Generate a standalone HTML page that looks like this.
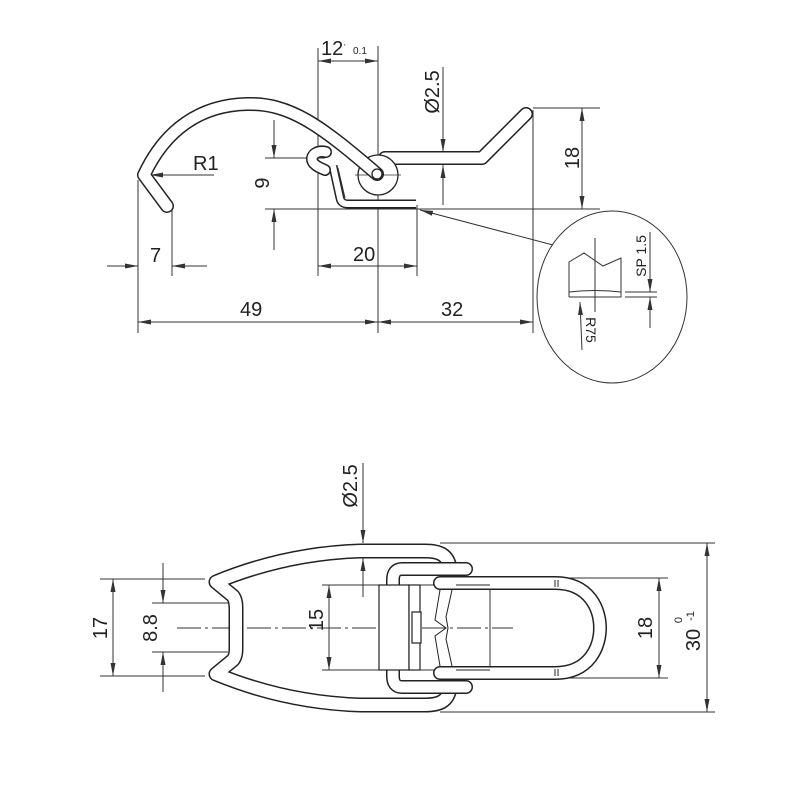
<!DOCTYPE html>
<html><head><meta charset="utf-8"><style>
html,body{margin:0;padding:0;background:#fff}
svg{display:block}
text{font-family:"Liberation Sans Narrow","Liberation Sans",sans-serif;fill:#222}
</style></head><body>
<svg width="800" height="800" viewBox="0 0 800 800" xmlns="http://www.w3.org/2000/svg">
<defs>
<marker id="a" markerWidth="13" markerHeight="6" refX="13" refY="3" orient="auto-start-reverse" markerUnits="userSpaceOnUse"><path d="M0,0.5L13,3L0,5.5z" fill="#333"/></marker>
</defs>
<rect width="800" height="800" fill="#fff"/>

<!-- ============ TOP VIEW ============ -->
<g stroke="#333" stroke-width="1" fill="none">
  <!-- extension lines -->
  <line x1="138" y1="180" x2="138" y2="333"/>
  <line x1="172" y1="210" x2="172" y2="276"/>
  <line x1="318" y1="48" x2="318" y2="276"/>
  <line x1="378" y1="46" x2="378" y2="333"/>
  <line x1="417" y1="205" x2="417" y2="276"/>
  <line x1="533" y1="110" x2="533" y2="333"/>
  <line x1="265" y1="158" x2="325" y2="158"/>
  <line x1="265" y1="209" x2="600" y2="209"/>
  <line x1="533" y1="108" x2="600" y2="108"/>
  <!-- dims -->
  <line x1="318" y1="61" x2="378" y2="61" marker-start="url(#a)" marker-end="url(#a)"/>
  <line x1="443" y1="67" x2="443" y2="152" marker-end="url(#a)"/>
  <line x1="443" y1="205" x2="443" y2="165" marker-end="url(#a)"/>
  <line x1="582" y1="108" x2="582" y2="209" marker-start="url(#a)" marker-end="url(#a)"/>
  <line x1="274" y1="120" x2="274" y2="158" marker-end="url(#a)"/>
  <line x1="274" y1="250" x2="274" y2="209" marker-end="url(#a)"/>
  <line x1="107" y1="266" x2="138" y2="266" marker-end="url(#a)"/>
  <line x1="207" y1="266" x2="172" y2="266" marker-end="url(#a)"/>
  <line x1="318" y1="266" x2="417" y2="266" marker-start="url(#a)" marker-end="url(#a)"/>
  <line x1="138" y1="322" x2="378" y2="322" marker-start="url(#a)" marker-end="url(#a)"/>
  <line x1="378" y1="322" x2="533" y2="322" marker-start="url(#a)" marker-end="url(#a)"/>
  <line x1="214" y1="175" x2="150" y2="175" marker-end="url(#a)"/>
  <line x1="553" y1="245" x2="420" y2="210" marker-end="url(#a)"/>
</g>

<!-- lever wire -->
<path d="M385,158 L482,158 L526,114" fill="none" stroke="#222" stroke-width="14" stroke-linecap="round" stroke-linejoin="round"/>
<path d="M385,158 L482,158 L526,114" fill="none" stroke="#fff" stroke-width="11" stroke-linecap="round" stroke-linejoin="round"/>
<!-- bracket -->
<path d="M333,166 L340,198 Q341,204 348,204 L416,204" fill="none" stroke="#222" stroke-width="9"/>
<path d="M333,166 L340,198 Q341,204 348,204 L416,204" fill="none" stroke="#fff" stroke-width="6"/>
<line x1="338" y1="168" x2="345" y2="198" stroke="#333" stroke-width="1"/>
<!-- curl -->
<path d="M326,152 C318,150 312,154 312,159 C312,164 318,167 325,170" fill="none" stroke="#222" stroke-width="12" stroke-linecap="round"/>
<path d="M326,152 C318,150 312,154 312,159 C312,164 318,167 325,170" fill="none" stroke="#fff" stroke-width="9" stroke-linecap="round"/>
<!-- pivot -->
<circle cx="378" cy="175" r="20" fill="#fff" stroke="#222" stroke-width="1.3"/>
<line x1="355" y1="175" x2="401" y2="175" stroke="#333" stroke-width="0.8"/>
<!-- hook -->
<path d="M167,206 L144,175 C165,130 200,105 247,104 C290,103 320,125 377,174" fill="none" stroke="#222" stroke-width="14" stroke-linecap="round" stroke-linejoin="round"/>
<path d="M167,206 L144,175 C165,130 200,105 247,104 C290,103 320,125 377,174" fill="none" stroke="#fff" stroke-width="11" stroke-linecap="round" stroke-linejoin="round"/>
<circle cx="377" cy="174" r="5" fill="#fff" stroke="#222" stroke-width="1.3"/>

<!-- top text -->
<text x="321" y="55" font-size="20">12</text>
<text x="344" y="50" font-size="8">'</text>
<text x="353" y="54" font-size="10">0.1</text>
<text x="193" y="170" font-size="20">R1</text>
<text x="150" y="262" font-size="20">7</text>
<text x="353" y="261" font-size="20">20</text>
<text x="240" y="316" font-size="20">49</text>
<text x="441" y="316" font-size="20">32</text>
<text transform="translate(439,92) rotate(-90)" font-size="20" text-anchor="middle">Ø2.5</text>
<text transform="translate(579,158) rotate(-90)" font-size="20" text-anchor="middle">18</text>
<text transform="translate(269,183) rotate(-90)" font-size="20" text-anchor="middle">9</text>

<!-- detail -->
<g stroke="#333" fill="none" stroke-width="1">
  <ellipse cx="612" cy="297" rx="75" ry="86"/>
  <polyline points="569,297 569,262 584,253 603,266 621,258 621,297 569,297"/>
  <path d="M569,292 Q595,289 621,292"/>
  <line x1="595" y1="238" x2="595" y2="312"/>
  <line x1="625" y1="292" x2="657" y2="292"/>
  <line x1="625" y1="297" x2="657" y2="297"/>
  <line x1="650" y1="232" x2="650" y2="292" marker-end="url(#a)"/>
  <line x1="650" y1="328" x2="650" y2="297" marker-end="url(#a)"/>
  <line x1="582" y1="350" x2="580" y2="302" marker-end="url(#a)"/>
</g>
<text transform="translate(646,256) rotate(-90)" font-size="14" text-anchor="middle">SP 1.5</text>
<text transform="translate(586,330) rotate(90)" font-size="14" text-anchor="middle">R75</text>

<!-- ============ BOTTOM VIEW ============ -->
<g stroke="#333" stroke-width="1" fill="none">
  <line x1="177" y1="628" x2="513" y2="628" stroke-dasharray="24,4,3,4"/>
  <!-- ext lines -->
  <line x1="100" y1="579" x2="205" y2="579"/>
  <line x1="100" y1="676" x2="205" y2="676"/>
  <line x1="152" y1="603" x2="228" y2="603"/>
  <line x1="152" y1="652" x2="228" y2="652"/>
  <line x1="322" y1="585" x2="380" y2="585"/>
  <line x1="322" y1="670" x2="380" y2="670"/>
  <line x1="555" y1="578" x2="668" y2="578"/>
  <line x1="555" y1="678" x2="668" y2="678"/>
  <line x1="440" y1="543" x2="715" y2="543"/>
  <line x1="440" y1="712" x2="715" y2="712"/>
  <!-- dims -->
  <line x1="113" y1="579" x2="113" y2="676" marker-start="url(#a)" marker-end="url(#a)"/>
  <line x1="163" y1="563" x2="163" y2="603" marker-end="url(#a)"/>
  <line x1="163" y1="692" x2="163" y2="652" marker-end="url(#a)"/>
  <line x1="329" y1="585" x2="329" y2="670" marker-start="url(#a)" marker-end="url(#a)"/>
  <line x1="659" y1="578" x2="659" y2="678" marker-start="url(#a)" marker-end="url(#a)"/>
  <line x1="707" y1="543" x2="707" y2="712" marker-start="url(#a)" marker-end="url(#a)"/>
  <line x1="363" y1="463" x2="363" y2="543" marker-end="url(#a)"/>
  <line x1="363" y1="597" x2="363" y2="558" marker-end="url(#a)"/>
</g>

<!-- frame wire -->
<path id="fw" d="M450,568 C448,555 440,551 425,551 L360,551 C300,553 250,568 216,582 L233,596 C236,600 236,605 236,610 L236,646 C236,652 236,656 233,660 L216,674 C250,688 300,703 360,705 L425,705 C440,705 448,701 450,688" fill="none" stroke="#222" stroke-width="15" stroke-linecap="round" stroke-linejoin="round"/>
<path d="M450,568 C448,555 440,551 425,551 L360,551 C300,553 250,568 216,582 L233,596 C236,600 236,605 236,610 L236,646 C236,652 236,656 233,660 L216,674 C250,688 300,703 360,705 L425,705 C440,705 448,701 450,688" fill="none" stroke="#fff" stroke-width="12" stroke-linecap="round" stroke-linejoin="round"/>

<!-- ring wire -->
<path d="M466,569 L402,569 Q393,569 393,580 L393,676 Q393,687 402,687 L466,687" fill="none" stroke="#222" stroke-width="14" stroke-linecap="round"/>
<path d="M466,569 L402,569 Q393,569 393,580 L393,676 Q393,687 402,687 L466,687" fill="none" stroke="#fff" stroke-width="11" stroke-linecap="round"/>

<!-- block -->
<g stroke="#222" stroke-width="1.2" fill="#fff">
  <rect x="379" y="585" width="30" height="85"/>
  <rect x="409" y="585" width="11" height="85"/>
  <rect x="412" y="612" width="9" height="31"/>
</g>
<g stroke="#333" stroke-width="1" fill="none">
  <polyline points="420,585 490,585 490,670 420,670"/>
</g>

<!-- latch U -->
<path d="M440,583 L555,583 C590,583 600,610 600,628 C600,646 590,673 555,673 L440,673" fill="none" stroke="#222" stroke-width="14" stroke-linecap="round"/>
<path d="M440,583 L555,583 C590,583 600,610 600,628 C600,646 590,673 555,673 L440,673" fill="none" stroke="#fff" stroke-width="11" stroke-linecap="round"/>
<g stroke="#222" stroke-width="1" fill="none">
  <polyline points="440,590 435,620 446,628 435,636 440,666"/>
  <polyline points="452,590 446,617 448,628 446,639 452,666"/>
  <line x1="456" y1="585" x2="490" y2="585"/>
  <line x1="456" y1="670" x2="490" y2="670"/>
  <line x1="555" y1="580" x2="555" y2="587"/><line x1="558" y1="580" x2="558" y2="587"/>
  <line x1="555" y1="669" x2="555" y2="676"/><line x1="558" y1="669" x2="558" y2="676"/>
</g>

<!-- bottom text -->
<text transform="translate(107,628) rotate(-90)" font-size="20" text-anchor="middle">17</text>
<text transform="translate(157,628) rotate(-90)" font-size="20" text-anchor="middle">8.8</text>
<text transform="translate(323,620) rotate(-90)" font-size="20" text-anchor="middle">15</text>
<text transform="translate(652,628) rotate(-90)" font-size="20" text-anchor="middle">18</text>
<text transform="translate(700,640) rotate(-90)" font-size="20" text-anchor="middle">30</text>
<text transform="translate(682,620) rotate(-90)" font-size="11" text-anchor="middle">0</text>
<text transform="translate(694,616) rotate(-90)" font-size="11" text-anchor="middle">-1</text>
<text transform="translate(357,486) rotate(-90)" font-size="20" text-anchor="middle">Ø2.5</text>
</svg>
</body></html>
